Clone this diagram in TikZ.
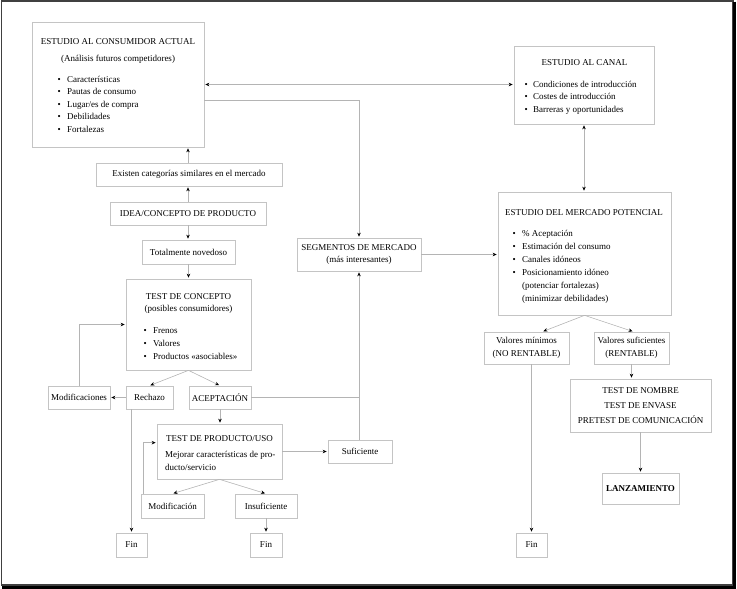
\documentclass[tikz,border=0pt]{standalone}
\usepackage{fontspec}
\setmainfont{Liberation Serif}
\usetikzlibrary{arrows.meta,calc}
\definecolor{boxgray}{HTML}{C4C4C4}
\definecolor{linegray}{HTML}{B4B4B4}
\begin{document}
\begin{tikzpicture}[x=1pt,y=-1pt,
  font=\fontsize{9}{12.5}\selectfont,
  box/.style={draw=boxgray, line width=0.7pt, inner sep=0pt, align=center},
  txt/.style={inner sep=0pt, anchor=base},
  btxt/.style={inner sep=0pt, anchor=base west},
  conn/.style={draw=linegray, line width=0.6pt},
  arr/.style={conn, shorten >=1pt, -{Stealth[length=4pt,width=3.5pt,color=black]}},
  dbl/.style={conn, shorten >=1pt, shorten <=1pt, {Stealth[length=4pt,width=3.5pt,color=black]}-{Stealth[length=4pt,width=3.5pt,color=black]}}
]
\useasboundingbox (0,0) rectangle (737,589);
% frame
\draw[line width=1.2pt, draw=black!75] (1.5,1) rectangle (733,585);
\draw[line width=3pt] (734.5,1.5) -- (734.5,587.5) -- (1.5,587.5);

% boxes
\node[box, minimum width=172pt, minimum height=125pt] (cons) at (118,84.5) {};
\node[box, minimum width=186pt, minimum height=23pt] (exist) at (189,174.5) {Existen categorías similares en el mercado};
\node[box, minimum width=156pt, minimum height=23pt] (idea) at (188,213.5) {IDEA/CONCEPTO DE PRODUCTO};
\node[box, minimum width=93pt, minimum height=24pt] (total) at (188.5,252) {Totalmente novedoso};
\node[box, minimum width=125pt, minimum height=91pt] (tconc) at (188.5,324.5) {};
\node[box, minimum width=62pt, minimum height=23pt] (modifs) at (79,397.5) {Modificaciones};
\node[box, minimum width=47pt, minimum height=23pt] (rech) at (149.5,397.5) {Rechazo};
\node[box, minimum width=62pt, minimum height=23pt] (acep) at (220,397.5) {ACEPTACIÓN};
\node[box, minimum width=125pt, minimum height=55pt] (tprod) at (219.5,451.5) {};
\node[box, minimum width=63pt, minimum height=24pt] (modif) at (172.5,506) {Modificación};
\node[box, minimum width=62pt, minimum height=24pt] (insuf) at (266,506) {Insuficiente};
\node[box, minimum width=31pt, minimum height=24pt] (fin1) at (131.5,545) {Fin};
\node[box, minimum width=32pt, minimum height=24pt] (fin2) at (266,545) {Fin};
\node[box, minimum width=64pt, minimum height=23pt] (sufi) at (360,451.5) {Suficiente};
\node[box, minimum width=124pt, minimum height=33pt] (segm) at (359,254.5) {SEGMENTOS DE MERCADO\\(más interesantes)};
\node[box, minimum width=140pt, minimum height=78pt] (canal) at (584,85) {};
\node[box, minimum width=173pt, minimum height=123pt] (merc) at (584.5,253.5) {};
\node[box, minimum width=85pt, minimum height=32pt] (vmin) at (526.5,348) {Valores mínimos\\(NO RENTABLE)};
\node[box, minimum width=75pt, minimum height=32pt] (vsuf) at (631.5,348) {Valores suficientes\\(RENTABLE)};
\node[box, minimum width=141pt, minimum height=53pt, font=\fontsize{9}{15}\selectfont] (tnom) at (640.5,405.5) {TEST DE NOMBRE\\TEST DE ENVASE\\PRETEST DE COMUNICACIÓN};
\node[box, minimum width=77pt, minimum height=31pt, font=\fontsize{9}{12.5}\selectfont\bfseries] (lanz) at (640.5,488.5) {LANZAMIENTO};
\node[box, minimum width=31pt, minimum height=24pt] (fin3) at (531.5,545) {Fin};

% texts inside large boxes
\node[txt] (consT) at (118,45) {ESTUDIO AL CONSUMIDOR ACTUAL};
\node[txt] (consS) at (118,61) {(Análisis futuros competidores)};
\foreach \t [count=\i] in {Características, Pautas de consumo, Lugar/es de compra, Debilidades, Fortalezas}
  \node[btxt] (consb\i) at (57.4,{82+12.5*(\i-1)}) {\makebox[9.6pt][l]{\textbullet}\t};

\node[txt] (canalT) at (584.5,65) {ESTUDIO AL CANAL};
\foreach \t [count=\i] in {Condiciones de introducción, Costes de introducción, Barreras y oportunidades}
  \node[btxt] (canalb\i) at (524.4,{87+12.8*(\i-1)}) {\makebox[8.6pt][l]{\textbullet}\t};

\node[txt] (mercT) at (584,215) {ESTUDIO DEL MERCADO POTENCIAL};
\foreach \t [count=\i] in {\% Aceptación, Estimación del consumo, Canales idóneos, Posicionamiento idóneo}
  \node[btxt] (mercb\i) at (512.4,{236+13*(\i-1)}) {\makebox[9.6pt][l]{\textbullet}\t};
\node[btxt] (merc5) at (522,288) {(potenciar fortalezas)};
\node[btxt] (merc6) at (522,301) {(minimizar debilidades)};

\node[txt] (tconcT) at (188.5,299) {TEST DE CONCEPTO};
\node[txt] (tconcS) at (188.5,311) {(posibles consumidores)};
\foreach \t [count=\i] in {Frenos, Valores, Productos «asociables»}
  \node[btxt] (tconcb\i) at (143.4,{333+13*(\i-1)}) {\makebox[9.6pt][l]{\textbullet}\t};

\node[txt] (tprodT) at (219.5,441) {TEST DE PRODUCTO/USO};
\node[btxt] (tprod1) at (165,457) {Mejorar características de pro-};
\node[btxt] (tprod2) at (165,470) {ducto/servicio};

% connectors
\draw[arr] (idea.north) -- (idea.north |- exist.south);
\draw[arr] (idea.north |- exist.north) -- (idea.north |- cons.south);
\draw[arr] (idea.south) -- (idea.south |- total.north);
\draw[arr] (total.south) -- (tconc.north);
\draw[arr] (tconc.south) -- (rech.north);
\draw[arr] (tconc.south) -- (acep.north);
\draw[arr] (rech.west) -- (modifs.east);
\draw[arr] (modifs.north) |- (tconc.west);
\draw[arr] (fin1.north |- rech.south) -- (fin1.north);
\draw[arr] (acep.south) -- (acep.south |- tprod.north);
\draw[conn] (acep.east) -- (acep.east -| segm.south);
\draw[arr] (sufi.north -| segm.south) -- (segm.south);
\draw[arr] (tprod.east) -- (tprod.east -| sufi.west);
\draw[arr] (tprod.south) -- (modif.north);
\draw[arr] (tprod.south) -- (insuf.north);
\coordinate (mfb) at ($(modif.north west)+(3,0)$);
\coordinate (tprodin) at ($(tprod.north west)+(0,19)$);
\draw[arr] (mfb) |- (tprodin);
\draw[arr] (insuf.south) -- (fin2.north);
\draw[dbl] (cons.east) -- (cons.east -| canal.west);
\coordinate (c1) at ($(cons.east)+(0,15.5)$);
\draw[arr] (c1) -| (segm.north);
\draw[dbl] (canal.south) -- (canal.south |- merc.north);
\draw[arr] (segm.east) -- (segm.east -| merc.west);
\draw[arr] (merc.south) -- ($(vmin.north)+(16,0)$);
\draw[arr] (merc.south) -- ($(vsuf.north)+(2,0)$);
\draw[arr] (vsuf.south) -- (vsuf.south |- tnom.north);
\draw[arr] (tnom.south) -- (lanz.north);
\draw[arr] (fin3.north |- vmin.south) -- (fin3.north);
\end{tikzpicture}
\end{document}
